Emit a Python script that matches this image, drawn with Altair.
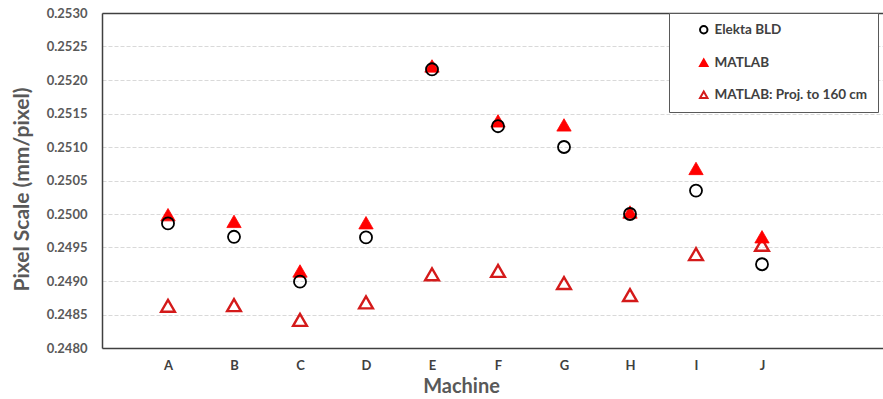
import altair as alt
import pandas as pd

machines = ["A", "B", "C", "D", "E", "F", "G", "H", "I", "J"]
series_names = ["Elekta BLD", "MATLAB", "MATLAB: Proj. to 160 cm"]
elekta = [0.24986, 0.24966, 0.24899, 0.24965, 0.25216, 0.25131, 0.25100, 0.25000, 0.25035, 0.24925]
matlab = [0.24999, 0.24989, 0.24915, 0.24987, 0.25221, 0.25139, 0.25133, 0.25003, 0.25068, 0.24966]
proj = [0.24863, 0.24864, 0.24842, 0.24868, 0.24910, 0.24915, 0.24897, 0.24879, 0.24940, 0.24954]
y_ticks = [0.2480, 0.2485, 0.2490, 0.2495, 0.2500, 0.2505, 0.2510, 0.2515, 0.2520, 0.2525, 0.2530]

rows = []
for name, vals in [(series_names[0], elekta), (series_names[1], matlab), (series_names[2], proj)]:
    for i, (m, v) in enumerate(zip(machines, vals)):
        rows.append({"machine": m, "idx": i + 1, "series": name, "value": v})
df = pd.DataFrame(rows)

W, H = 781, 335
x_scale = alt.Scale(domain=[0, W / 66.0], nice=False, zero=False)
y_scale = alt.Scale(domain=[0.2480, 0.2530], nice=False, zero=False)

label_js = "[" + ",".join("'" + m + "'" for m in machines) + "]"
FONT = "Lato"

x_axis = alt.Axis(
    values=list(range(1, len(machines) + 1)),
    labelExpr=label_js + "[datum.value - 1]",
    title="Machine",
    grid=False, ticks=False, tickSize=0,
    domainColor="#404040", domainWidth=1.5,
    labelFont=FONT, labelFontSize=13, labelFontWeight="bold", labelColor="#404040",
    labelPadding=11,
    titleFont=FONT, titleFontSize=20, titleFontWeight="bold", titleColor="#595959",
    titleX=359, titleAlign="center", titlePadding=4,
)
y_axis = alt.Axis(
    values=y_ticks, format=".4f", title="Pixel Scale (mm/pixel)",
    ticks=False, tickSize=0,
    domainColor="#404040", domainWidth=1.5,
    grid=True, gridColor="#d9d9d9", gridDash=[4, 2], gridWidth=1,
    labelFont=FONT, labelFontSize=13, labelFontWeight="bold", labelColor="#595959",
    labelPadding=15,
    titleFont=FONT, titleFontSize=21, titleFontWeight="bold", titleColor="#595959",
    titleX=-80, titleY=176, titleBaseline="middle", titleAlign="center",
)

legend = alt.Legend(
    title=None, orient="none", legendX=567, legendY=0,
    strokeColor="#595959", fillColor="white",
    padding=10, rowPadding=17, symbolOffset=18, labelOffset=4,
    symbolSize=55, symbolStrokeWidth=2,
    labelFont=FONT, labelFontSize=13.5, labelFontWeight="bold", labelColor="#404040",
    labelLimit=400,
    labelExpr="datum.label + '            '",
)

shape_enc = alt.Shape("series:N", scale=alt.Scale(domain=series_names, range=["circle", "triangle-up", "triangle-up"]), legend=legend)
color_enc = alt.Color("series:N", scale=alt.Scale(domain=series_names, range=["#000000", "#ff0000", "#d41a1a"]), legend=legend)
fill_enc = alt.Fill("series:N", scale=alt.Scale(domain=series_names, range=["transparent", "#ff0000", "transparent"]), legend=legend)

mark_styles = {
    series_names[2]: dict(size=190, strokeWidth=2.4),
    series_names[1]: dict(size=205, strokeWidth=0.8),
    series_names[0]: dict(size=145, strokeWidth=1.8),
}

layers = []
top_border = alt.Chart(df).mark_point(opacity=0).encode(
    x=alt.X("idx:Q", scale=x_scale, axis=alt.Axis(orient="top", labels=False, ticks=False, grid=False, title=None,
                                                 domainColor="#404040", domainWidth=1.5)),
    y=alt.Y("value:Q", scale=y_scale, axis=None),
)
layers.append(top_border)

first = True
for name in [series_names[2], series_names[1], series_names[0]]:
    layer = alt.Chart(df).transform_filter(alt.datum.series == name).mark_point(
        opacity=1, **mark_styles[name]
    ).encode(
        x=alt.X("idx:Q", scale=x_scale, axis=x_axis if first else None),
        y=alt.Y("value:Q", scale=y_scale, axis=y_axis if first else None),
        shape=shape_enc, color=color_enc, fill=fill_enc,
    )
    layers.append(layer)
    first = False

chart = alt.layer(*layers).resolve_axis(x="independent", y="independent").properties(
    width=W, height=H,
    autosize=alt.AutoSizeParams(type="none"),
    padding={"left": 102, "top": 13, "right": 0, "bottom": 51},
).configure_view(strokeWidth=0).configure(background="white")

chart.save("out.html", embed_options={"renderer": "svg", "actions": False})
